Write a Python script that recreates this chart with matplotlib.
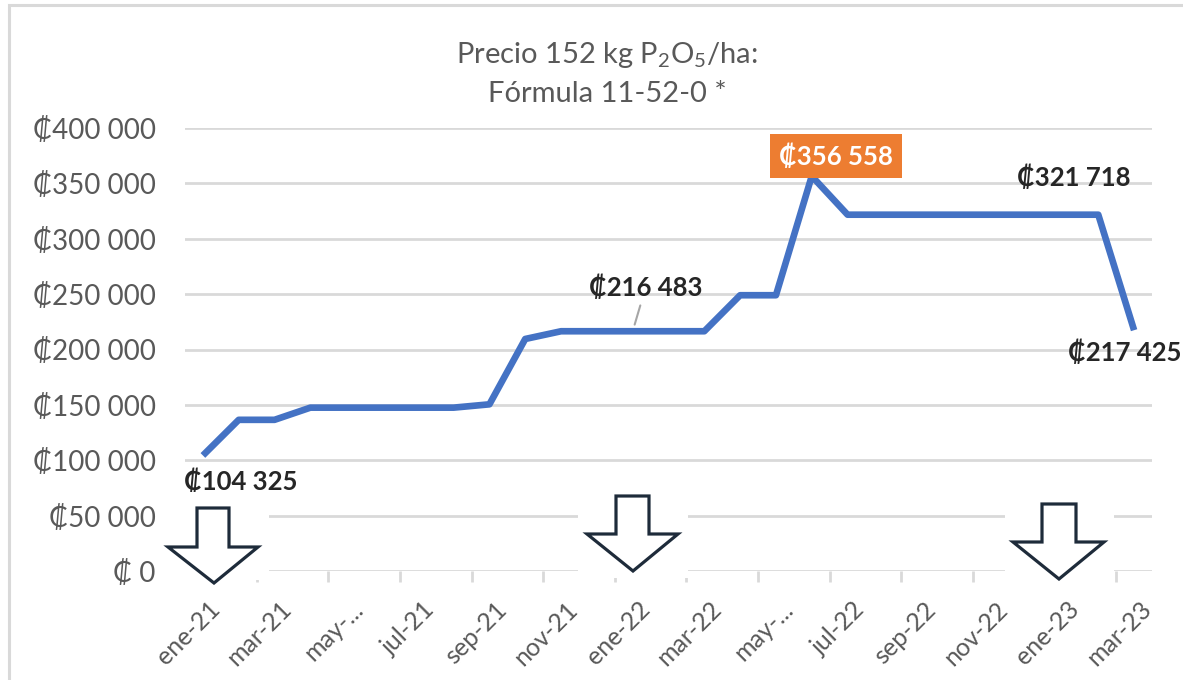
import matplotlib
matplotlib.use('Agg')
import matplotlib.pyplot as plt
import matplotlib.transforms as mtransforms
from matplotlib.patches import Polygon, Rectangle

W, H = 1183, 680

# monthly prices, ene-21 .. mar-23
months = ['ene-21', 'feb-21', 'mar-21', 'abr-21', 'may-21', 'jun-21', 'jul-21',
          'ago-21', 'sep-21', 'oct-21', 'nov-21', 'dic-21', 'ene-22', 'feb-22',
          'mar-22', 'abr-22', 'may-22', 'jun-22', 'jul-22', 'ago-22', 'sep-22',
          'oct-22', 'nov-22', 'dic-22', 'ene-23', 'feb-23', 'mar-23']
prices = [104325, 136500, 136500, 147500, 147500, 147500, 147500,
          147500, 150500, 209500, 216483, 216483, 216483, 216483,
          216483, 249000, 249000, 356558, 321718, 321718, 321718,
          321718, 321718, 321718, 321718, 321718, 217425]

tick_labels = ['ene-21', 'mar-21', 'may-...', 'jul-21', 'sep-21', 'nov-21',
               'ene-22', 'mar-22', 'may-...', 'jul-22', 'sep-22', 'nov-22',
               'ene-23', 'mar-23']
y_ticks = [0, 50000, 100000, 150000, 200000, 250000, 300000, 350000, 400000]
y_labels = ['₡ 0', '₡50 000', '₡100 000', '₡150 000', '₡200 000',
            '₡250 000', '₡300 000', '₡350 000', '₡400 000']

# labelled points: (month index, text, offset px)
labelled = [(0, '₡104 325', (38, -26)),
            (12, '₡216 483', (13, 44)),
            (24, '₡321 718', (11, 37)),
            (26, '₡217 425', (-9, -22))]
peak_idx = 17

FONT = ['Lato', 'DejaVu Sans']
plt.rcParams['font.family'] = FONT
plt.rcParams['mathtext.fontset'] = 'custom'
plt.rcParams['mathtext.rm'] = 'Lato'

GREY = '#595959'
GRID = '#D9D9D9'

fig = plt.figure(figsize=(W / 100, H / 100), dpi=100)
ax = fig.add_axes([185 / W, (H - 571) / H, (1152 - 185) / W, (571 - 128) / H])

x = list(range(len(months)))
ax.plot(x, prices, color='#4472C4', lw=4.8, solid_joinstyle='round',
        solid_capstyle='butt', zorder=3)

ax.set_xlim(-0.5, len(months) - 0.5)
ax.set_ylim(0, 400000)
ax.set_yticks(y_ticks)
ax.set_yticklabels(y_labels)
ax.tick_params(axis='y', length=0, pad=21, labelsize=20, labelcolor=GREY)
ax.yaxis.grid(True, color=GRID, lw=2)
ax.set_axisbelow(True)
for s in ax.spines.values():
    s.set_visible(False)

ax.set_xticks(x[::2])
ax.set_xticklabels(tick_labels)
ax.set_xticks([i + 1.5 for i in range(0, len(months) - 1, 2)], minor=True)
ax.tick_params(axis='x', which='major', length=0, pad=19, labelsize=18,
               labelcolor=GREY)
ax.tick_params(axis='x', which='minor', length=8, width=2, color=GRID)
off = mtransforms.ScaledTranslation(5 / 100, 0, fig.dpi_scale_trans)
for lab in ax.get_xticklabels():
    lab.set_rotation(45)
    lab.set_ha('right')
    lab.set_va('top')
    lab.set_rotation_mode('anchor')
    lab.set_transform(lab.get_transform() + off)

# data labels
for idx, txt, (dx, dy) in labelled:
    kw = {}
    if idx == 12:
        kw['arrowprops'] = dict(arrowstyle='-', color='#A6A6A6', lw=1.5,
                                shrinkA=2, shrinkB=5)
    ax.annotate(txt, (idx, prices[idx]), xytext=(dx, dy),
                textcoords='offset pixels', ha='center', va='center',
                fontsize=18.5, fontweight='bold', color='#262626', zorder=5, **kw)

ax.annotate(f'₡{prices[peak_idx]:,}'.replace(',', ' '), (peak_idx, prices[peak_idx]),
            xytext=(24, 20), textcoords='offset pixels', ha='center', va='center',
            fontsize=18.5, fontweight='bold', color='white', zorder=5,
            bbox=dict(boxstyle='square,pad=0.36', fc='#ED7D31', ec='none'))

# title
fig.text(607 / W, (H - 63) / H, 'Precio 152 kg P$\\mathregular{_2}$O$\\mathregular{_5}$/ha:',
         ha='center', va='baseline', fontsize=21, color=GREY)
fig.text(607 / W, (H - 102) / H, 'Fórmula 11-52-0 *',
         ha='center', va='baseline', fontsize=21, color=GREY)

# down arrows drawn on the chart (pixel geometry)
arrows = [
    dict(box=(160, 269, 492, 580), shaft=(197, 229), top=508, base=547, head=(168, 258), tip=(214, 583)),
    dict(box=(578, 688, 484, 578), shaft=(616, 649), top=496, base=534, head=(587, 678), tip=(633, 571)),
    dict(box=(1005, 1114, 492, 588), shaft=(1042, 1076), top=504, base=542, head=(1013, 1104), tip=(1059, 579)),
]


def fp(px, py):
    return (px / W, (H - py) / H)


for a in arrows:
    bx0, bx1, by0, by1 = a['box']
    x0, y0 = fp(bx0, by1)
    x1, y1 = fp(bx1, by0)
    fig.add_artist(Rectangle((x0, y0), x1 - x0, y1 - y0, transform=fig.transFigure,
                             fc='white', ec='none', zorder=6))
    s0, s1 = a['shaft']
    h0, h1 = a['head']
    pts = [fp(s0, a['top']), fp(s1, a['top']), fp(s1, a['base']), fp(h1, a['base']),
           fp(*a['tip']), fp(h0, a['base']), fp(s0, a['base'])]
    fig.add_artist(Polygon(pts, closed=True, transform=fig.transFigure,
                           fc='white', ec='#1E2B3A', lw=2.3, joinstyle='miter', zorder=7))

# chart frame
fx, fy = fp(9, 5)
fig.add_artist(Rectangle((fx, -0.2), 1.3, fy + 0.2, transform=fig.transFigure,
                         fill=False, ec=GRID, lw=2.2, zorder=10))

fig.savefig('out.png', dpi=100)
